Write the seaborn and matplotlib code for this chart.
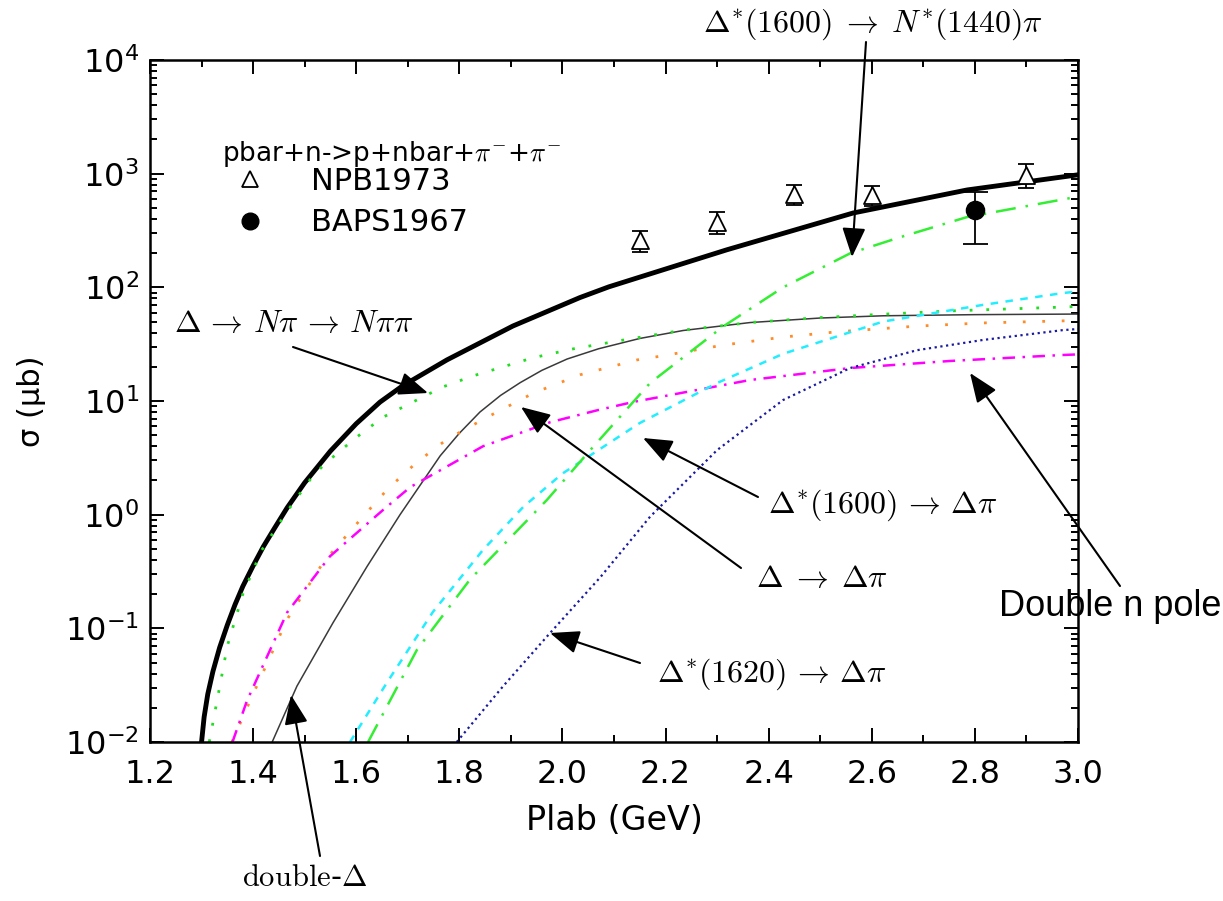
import numpy as np
import pandas as pd
import matplotlib
matplotlib.use("Agg")
import matplotlib.pyplot as plt
import seaborn as sns
from matplotlib.ticker import LogLocator, MultipleLocator, NullFormatter, FixedLocator
from matplotlib.lines import Line2D

# ---------------- data ----------------
total_x = [1.300, 1.305, 1.312, 1.322, 1.335, 1.350, 1.365, 1.380, 1.400, 1.420, 1.440,
           1.466, 1.500, 1.550, 1.600, 1.646, 1.690, 1.776, 1.904, 2.034, 2.090, 2.150, 2.319,
           2.564, 2.785, 3.000]
total_y = [0.0100, 0.0166, 0.0263, 0.0417, 0.0676, 0.107, 0.162, 0.234, 0.355, 0.525, 0.741,
           1.15, 1.91, 3.63, 6.31, 9.77, 13.6, 23.0, 45.7, 81.3, 101, 123, 214,
           451, 719, 977]

npipi_x = [1.315, 1.350, 1.380, 1.417, 1.466, 1.516, 1.543, 1.598, 1.652, 1.710, 1.768,
           1.826, 1.885, 1.943, 2.020, 2.112, 2.234, 2.364, 2.494, 2.622, 2.752, 2.970, 3.000]
npipi_y = [0.01, 0.07, 0.2, 0.49, 1.07, 2.2, 2.9, 4.7, 7.2, 9.8, 13.3,
           16.6, 20, 24, 28.7, 34, 42, 49, 54, 58, 62, 67, 68]

dd_x = [1.437, 1.485, 1.555, 1.621, 1.685, 1.763, 1.800, 1.840, 1.880, 1.918, 1.960, 2.009,
        2.070, 2.150, 2.234, 2.364, 2.500, 2.622, 2.800, 3.000]
dd_y = [0.01, 0.031, 0.112, 0.35, 1.0, 3.3, 5.2, 8.0, 11.2, 14.5, 18.6, 23.4,
        28.8, 35.5, 41.7, 49, 53.7, 56.2, 57.5, 58.2]

ddpi_x = [1.359, 1.394, 1.466, 1.536, 1.613, 1.662, 1.718, 1.776, 1.854, 1.943, 2.034,
          2.145, 2.195, 2.311, 2.428, 2.532, 2.688, 2.815, 2.971, 3.000]
ddpi_y = [0.01, 0.023, 0.12, 0.38, 0.96, 1.7, 2.9, 4.6, 7.2, 11.7, 17,
          23, 25, 31, 36.5, 40.6, 45.6, 48.6, 50.7, 51]

pole_x = [1.360, 1.388, 1.466, 1.549, 1.652, 1.705, 1.846, 1.976, 2.068, 2.137, 2.364,
          2.558, 2.752, 2.970, 3.000]
pole_y = [0.01, 0.023, 0.138, 0.43, 1.1, 1.75, 4.0, 6.5, 8.3, 9.8, 15.3,
          19.5, 22.5, 25.4, 25.7]

d1600dpi_x = [1.588, 1.659, 1.749, 1.846, 1.924, 2.000, 2.150, 2.300, 2.428, 2.622, 2.815, 2.970, 3.000]
d1600dpi_y = [0.01, 0.033, 0.14, 0.49, 1.17, 2.3, 6.4, 14.4, 26, 50, 70, 89, 92]

d1600npi_x = [1.623, 1.718, 1.821, 1.970, 2.054, 2.170, 2.311, 2.428, 2.558, 2.655, 2.784, 2.990, 3.000]
d1600npi_y = [0.01, 0.065, 0.27, 1.35, 3.7, 14.4, 45, 100, 199, 276, 414, 616, 625]

d1620_x = [1.795, 1.885, 1.976, 2.073, 2.170, 2.300, 2.428, 2.558, 2.688, 2.815, 2.970, 3.000]
d1620_y = [0.01, 0.031, 0.091, 0.28, 0.96, 3.7, 10.2, 19.5, 28, 34.4, 42, 43]

npb_x = [2.15, 2.30, 2.45, 2.60, 2.90]
npb_y = [261, 376, 660, 650, 977]
npb_err = [55, 80, 130, 130, 230]

baps_x = [2.80]
baps_y = [479]
baps_err_lo = [239]
baps_err_hi = [210]

xticks = [1.2, 1.4, 1.6, 1.8, 2.0, 2.2, 2.4, 2.6, 2.8, 3.0]

# ---------------- style ----------------
sns.set_theme(style="ticks")
plt.rcParams['font.family'] = ['DejaVu Sans']
plt.rcParams['mathtext.fontset'] = 'cm'
for k in ['text.color', 'axes.labelcolor', 'xtick.color', 'ytick.color', 'axes.edgecolor']:
    plt.rcParams[k] = 'black'

W, H = 1223, 901
fig = plt.figure(figsize=(W / 100, H / 100), dpi=100)
ax = fig.add_axes([150 / W, 159 / H, 928 / W, 682 / H])

def curve(x, y, **kw):
    sns.lineplot(x=x, y=y, ax=ax, estimator=None, sort=False, legend=False, **kw)

curve(total_x, total_y, color='black', linewidth=3.5)
curve(dd_x, dd_y, color='#3a3a3a', linewidth=1.1)
curve(npipi_x, npipi_y, color='#22dd22', linewidth=2.0, linestyle=(0, (1, 5)))
curve(ddpi_x, ddpi_y, color='#ff8c2a', linewidth=2.0, linestyle=(0, (1, 6)))
curve(pole_x, pole_y, color='#ff00ff', linewidth=1.8, linestyle=(0, (5, 3, 1, 3)))
curve(d1600dpi_x, d1600dpi_y, color='#22eeff', linewidth=1.8, linestyle=(0, (3, 3)))
curve(d1600npi_x, d1600npi_y, color='#33ee33', linewidth=1.8, linestyle=(0, (8, 4, 1, 4)))
curve(d1620_x, d1620_y, color='#1a1aa0', linewidth=1.6, linestyle=(0, (1, 1.6)))

# data points
ax.errorbar(npb_x, npb_y, yerr=npb_err, fmt='none', ecolor='black', elinewidth=1.3,
            capsize=6, capthick=1.3, zorder=5)
sns.scatterplot(x=npb_x, y=npb_y, ax=ax, marker='^', s=150, facecolor='white',
                edgecolor='black', linewidth=1.3, zorder=6, legend=False)
ax.errorbar(baps_x, baps_y, yerr=[baps_err_lo, baps_err_hi], fmt='none', ecolor='black',
            elinewidth=1.3, capsize=9, capthick=1.3, zorder=5)
sns.scatterplot(x=baps_x, y=baps_y, ax=ax, marker='o', s=170, color='black',
                edgecolor='black', zorder=6, legend=False)

# axes
ax.set_yscale('log')
ax.set_xlim(1.2, 3.0)
ax.set_ylim(1e-2, 1e4)
ax.xaxis.set_major_locator(FixedLocator(xticks))
ax.set_xticklabels([f"{t:.1f}" for t in xticks])
ax.xaxis.set_minor_locator(MultipleLocator(0.1))
ax.yaxis.set_major_locator(LogLocator(base=10, numticks=20))
ax.yaxis.set_minor_locator(LogLocator(base=10, subs=np.arange(2, 10), numticks=50))
ax.yaxis.set_minor_formatter(NullFormatter())
ax.tick_params(which='both', direction='in', top=True, right=True, width=1.4, colors='black')
ax.tick_params(which='major', length=10, labelsize=23)
ax.tick_params(axis='x', which='major', pad=12)
ax.tick_params(axis='y', which='major', pad=8)
ax.tick_params(which='minor', length=5)
for s in ax.spines.values():
    s.set_linewidth(1.8)
    s.set_color('black')
    s.set_visible(True)

ax.set_xlabel('Plab (GeV)', fontsize=24, labelpad=10)
ax.set_ylabel('σ (μb)', fontsize=22, labelpad=14)

# legend
fig.text(222 / W, 1 - 154 / H, r'pbar+n->p+nbar+$\pi^{-}$+$\pi^{-}$', fontsize=19,
         ha='left', va='center')
handles = [Line2D([], [], marker='^', linestyle='none', markersize=12, markerfacecolor='white',
                  markeredgecolor='black', markeredgewidth=1.3),
           Line2D([], [], marker='o', linestyle='none', markersize=12, color='black')]
ax.legend(handles, ['NPB1973', 'BAPS1967'], loc='upper left',
          bbox_to_anchor=(235 / W, 1 - 167 / H), bbox_transform=fig.transFigure,
          frameon=False, fontsize=22, handlelength=1.0, handletextpad=1.5,
          labelspacing=0.4, borderpad=0, borderaxespad=0)

# annotations (positions in image pixels, top-left origin)
def fp(p):
    return (p[0], H - p[1])

arrow_kw = dict(arrowstyle='-|>,head_length=0.75,head_width=0.3', color='black', lw=1.5,
                mutation_scale=24, shrinkA=0, shrinkB=0)

def ann(text, tip, start, tpos, size=23, family=None):
    ax.annotate('', xy=fp(tip), xycoords='figure pixels', xytext=fp(start),
                textcoords='figure pixels', arrowprops=arrow_kw, annotation_clip=False)
    kw = {}
    if family:
        kw['family'] = family
    fig.text(tpos[0] / W, 1 - tpos[1] / H, text, fontsize=size, ha='center', va='center', **kw)

ann(r'$\Delta^{*}(1600)\;\rightarrow\;N^{*}(1440)\pi$', (852, 257), (866, 42), (873, 24), 23)
ann(r'$\Delta\,\rightarrow\,N\pi\,\rightarrow\,N\pi\pi$', (428, 393), (293, 347), (294, 324), 23)
ann(r'$\Delta\;\rightarrow\;\Delta\pi$', (521, 407), (741, 568), (822, 579), 23)
ann(r'$\Delta^{*}(1600)\,\rightarrow\,\Delta\pi$', (643, 438), (758, 497), (883, 505), 23)
ann('Double n pole', (970, 373), (1120, 586), (1110, 606), 26, family='Liberation Sans')
ann(r'$\Delta^{*}(1620)\,\rightarrow\,\Delta\pi$', (550, 633), (640, 663), (772, 674), 23)
ann(r'$\mathrm{double}$-$\Delta$', (291, 695), (320, 856), (305, 877), 22)

fig.savefig('out.png', dpi=100)
